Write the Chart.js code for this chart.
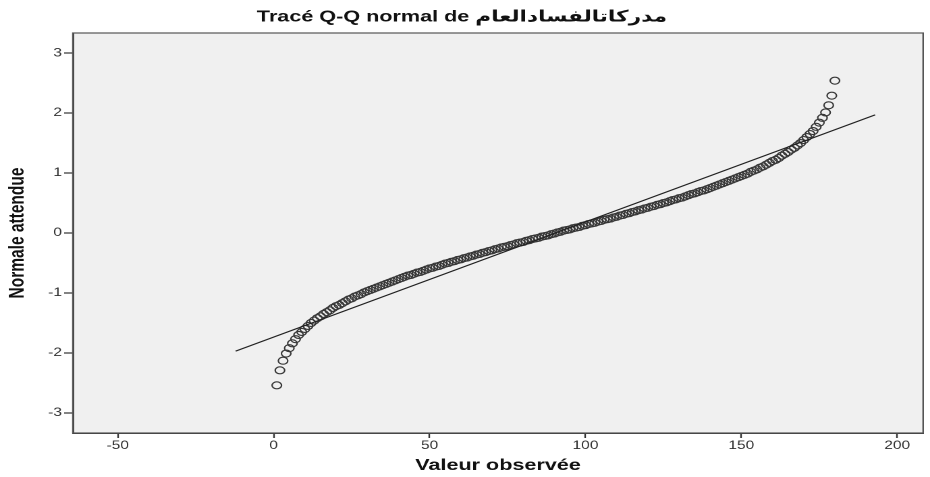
<!DOCTYPE html>
<html>
<head>
<meta charset="utf-8">
<script src="https://cdn.jsdelivr.net/npm/chart.js@4.4.0/dist/chart.umd.min.js"></script>
<style>
  html, body { margin: 0; padding: 0; background: #fff; overflow: hidden; }
  /* the SPSS export is stretched sideways, so draw narrow and widen */
  #wrap { position: absolute; left: 0; top: 0; width: 689px; height: 477px;
          transform: scaleX(1.3498); transform-origin: 0 0; }
</style>
</head>
<body>
<div id="wrap"><canvas id="qqChart"></canvas></div>
<script>
const titleText = 'Tracé Q-Q normal de مدركاتالفسادالعام';
const xTitle = 'Valeur observée';
const yTitle = 'Normale attendue';
const xTicks = [-50, 0, 50, 100, 150, 200];
const yTicks = [-3, -2, -1, 0, 1, 2, 3];

const observed = [
  1, 2, 3, 4, 5, 6, 7, 8, 9, 10, 11, 12, 13, 14, 15, 16, 17, 18, 19, 20,
  21, 22, 23, 24, 25, 26, 27, 28, 29, 30, 31, 32, 33, 34, 35, 36, 37, 38, 39, 40,
  41, 42, 43, 44, 45, 46, 47, 48, 49, 50, 51, 52, 53, 54, 55, 56, 57, 58, 59, 60,
  61, 62, 63, 64, 65, 66, 67, 68, 69, 70, 71, 72, 73, 74, 75, 76, 77, 78, 79, 80,
  81, 82, 83, 84, 85, 86, 87, 88, 89, 90, 91, 92, 93, 94, 95, 96, 97, 98, 99, 100,
  101, 102, 103, 104, 105, 106, 107, 108, 109, 110, 111, 112, 113, 114, 115, 116, 117, 118, 119, 120,
  121, 122, 123, 124, 125, 126, 127, 128, 129, 130, 131, 132, 133, 134, 135, 136, 137, 138, 139, 140,
  141, 142, 143, 144, 145, 146, 147, 148, 149, 150, 151, 152, 153, 154, 155, 156, 157, 158, 159, 160,
  161, 162, 163, 164, 165, 166, 167, 168, 169, 170, 171, 172, 173, 174, 175, 176, 177, 178, 179, 180
];
const expected = [
  -2.54, -2.29, -2.13, -2.01, -1.92, -1.84, -1.77, -1.70, -1.65, -1.60,
  -1.55, -1.50, -1.46, -1.42, -1.39, -1.35, -1.32, -1.29, -1.25, -1.22,
  -1.20, -1.17, -1.14, -1.11, -1.09, -1.06, -1.04, -1.02, -0.99, -0.97,
  -0.95, -0.93, -0.91, -0.89, -0.87, -0.85, -0.83, -0.81, -0.79, -0.77,
  -0.75, -0.73, -0.71, -0.70, -0.68, -0.66, -0.65, -0.63, -0.61, -0.59,
  -0.58, -0.56, -0.55, -0.53, -0.51, -0.50, -0.48, -0.47, -0.45, -0.44,
  -0.42, -0.41, -0.39, -0.38, -0.36, -0.35, -0.33, -0.32, -0.30, -0.29,
  -0.27, -0.26, -0.24, -0.23, -0.22, -0.20, -0.19, -0.17, -0.16, -0.15,
  -0.13, -0.12, -0.10, -0.09, -0.08, -0.06, -0.05, -0.04, -0.02, -0.01,
  0.01, 0.02, 0.04, 0.05, 0.06, 0.08, 0.09, 0.10, 0.12, 0.13,
  0.15, 0.16, 0.17, 0.19, 0.20, 0.22, 0.23, 0.24, 0.26, 0.27,
  0.29, 0.30, 0.32, 0.33, 0.35, 0.36, 0.38, 0.39, 0.41, 0.42,
  0.44, 0.45, 0.47, 0.48, 0.50, 0.51, 0.53, 0.55, 0.56, 0.58,
  0.59, 0.61, 0.63, 0.65, 0.66, 0.68, 0.70, 0.71, 0.73, 0.75,
  0.77, 0.79, 0.81, 0.83, 0.85, 0.87, 0.89, 0.91, 0.93, 0.95,
  0.97, 0.99, 1.02, 1.04, 1.06, 1.09, 1.11, 1.14, 1.17, 1.20,
  1.22, 1.25, 1.29, 1.32, 1.35, 1.39, 1.42, 1.46, 1.50, 1.55,
  1.60, 1.65, 1.70, 1.77, 1.84, 1.92, 2.01, 2.13, 2.29, 2.54
];

// reference line end points
const lineX = [-12.2, 192.9];
const lineY = [-1.97, 1.97];

const fontFamily = '"Liberation Sans", Arial, "DejaVu Sans", sans-serif';

// grey plot background + frame
const plotBox = {
  id: 'plotBox',
  beforeDraw(chart) {
    const { ctx, chartArea: a } = chart;
    ctx.save();
    ctx.fillStyle = '#f0f0f0';
    ctx.fillRect(a.left, a.top, a.right - a.left, a.bottom - a.top);
    ctx.restore();
  },
  afterDraw(chart) {
    const { ctx, chartArea: a } = chart;
    ctx.save();
    ctx.strokeStyle = '#555';
    ctx.lineWidth = 1.2;
    ctx.strokeRect(a.left, a.top, a.right - a.left, a.bottom - a.top);
    ctx.restore();
  }
};

new Chart(document.getElementById('qqChart'), {
  type: 'scatter',
  data: {
    datasets: [
      {
        data: observed.map((x, i) => ({ x: x, y: expected[i] })),
        pointStyle: 'circle',
        pointRadius: 3.5,
        borderColor: '#383838',
        borderWidth: 1.1,
        backgroundColor: 'rgba(0,0,0,0)',
        order: 1
      },
      {
        data: lineX.map((x, i) => ({ x: x, y: lineY[i] })),
        showLine: true,
        borderColor: '#222',
        borderWidth: 1.2,
        pointRadius: 0,
        order: 0
      }
    ]
  },
  options: {
    responsive: true,
    maintainAspectRatio: false,
    animation: false,
    devicePixelRatio: 2,
    layout: { padding: { top: 0, right: 4.6, bottom: 0, left: 0 } },
    plugins: {
      legend: { display: false },
      tooltip: { enabled: false },
      title: {
        display: true,
        text: titleText,
        color: '#111',
        font: { family: fontFamily, size: 16, weight: 'bold' },
        padding: { top: 7.4, bottom: 6.4 }
      }
    },
    scales: {
      x: {
        type: 'linear',
        min: -64.4,
        max: 208.3,
        afterBuildTicks: s => { s.ticks = xTicks.map(v => ({ value: v })); },
        afterFit: s => { s.height = 44; },
        grid: { drawOnChartArea: false, drawTicks: true, tickLength: 5, tickColor: '#333', tickWidth: 1.2 },
        border: { display: true, color: '#333', width: 1.5 },
        ticks: { color: '#333', padding: 1, maxRotation: 0, autoSkip: false,
                 font: { family: fontFamily, size: 11.5 } },
        title: { display: true, text: xTitle, color: '#111',
                 font: { family: fontFamily, size: 16, weight: 'bold' },
                 padding: { top: 0, bottom: 2 } }
      },
      y: {
        type: 'linear',
        min: -3.335,
        max: 3.335,
        afterBuildTicks: s => { s.ticks = yTicks.map(v => ({ value: v })); },
        afterFit: s => { s.width = 54; },
        grid: { drawOnChartArea: false, drawTicks: true, tickLength: 6.5, tickColor: '#333', tickWidth: 1.2 },
        border: { display: true, color: '#333', width: 1.5 },
        ticks: { color: '#333', padding: 1.6, autoSkip: false,
                 font: { family: fontFamily, size: 11.5 } },
        title: { display: true, text: yTitle, color: '#111',
                 font: { family: fontFamily, size: 15.5, weight: 'bold' },
                 padding: { top: 4, bottom: 0 } }
      }
    }
  },
  plugins: [plotBox]
});
</script>
</body>
</html>
